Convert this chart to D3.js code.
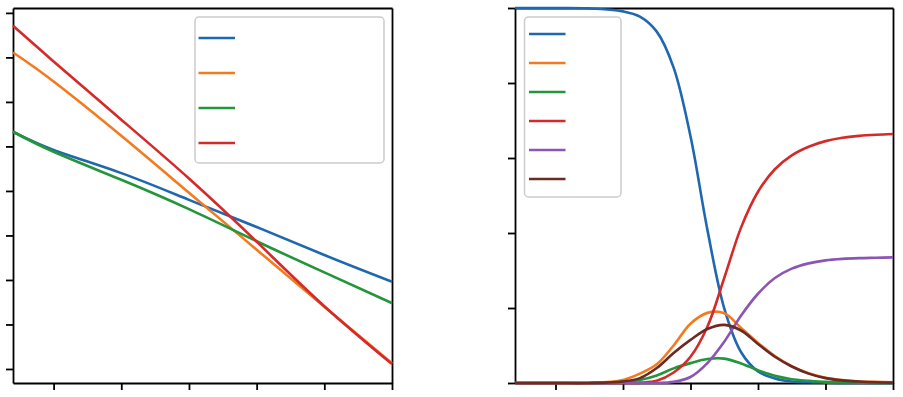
<!DOCTYPE html>
<html>
<head>
<meta charset="utf-8">
<script src="https://cdn.jsdelivr.net/npm/d3@7"></script>
<style>
  body { margin: 0; background: #fff; }
  .axis path, .axis line { stroke: #000; stroke-width: 1.8; }
  .series { fill: none; stroke-width: 2.6; stroke-linejoin: round; }
</style>
</head>
<body>
<script>

var Width = 903;
var Height = 397;

// shared x ticks
var xTicks = [1, 2, 3, 4, 5, 6];

// left panel: straight-ish lines
var leftX = [0.4, 1, 2, 3, 4, 5, 6];
var leftBlue   = [5.33, 4.92, 4.40, 3.80, 3.19, 2.56, 1.96];
var leftOrange = [7.11, 6.46, 5.24, 3.96, 2.68, 1.40, 0.13];
var leftGreen  = [5.33, 4.88, 4.25, 3.59, 2.87, 2.17, 1.48];
var leftRed    = [7.71, 6.91, 5.60, 4.28, 2.86, 1.41, 0.11];
var leftYTicks = [0, 1, 2, 3, 4, 5, 6, 7, 8];

// right panel: sigmoid / bell curves
var rightX = [0.4, 1, 1.5, 2, 2.25, 2.5, 2.75, 3, 3.25, 3.5, 3.75, 4, 4.25, 4.5, 4.75, 5, 5.25, 5.5, 5.75, 6];
var rightBlue   = [1.0, 1.0, 0.999, 0.991, 0.977, 0.937, 0.841, 0.658, 0.409, 0.199, 0.082, 0.031, 0.012, 0.004, 0.002, 0.001, 0, 0, 0, 0];
var rightOrange = [0, 0, 0, 0.008, 0.025, 0.05, 0.1, 0.158, 0.187, 0.186, 0.147, 0.107, 0.072, 0.045, 0.026, 0.014, 0.008, 0.004, 0.003, 0.002];
var rightGreen  = [0, 0, 0, 0.003, 0.008, 0.02, 0.039, 0.053, 0.064, 0.065, 0.052, 0.034, 0.019, 0.01, 0.006, 0.003, 0.002, 0.001, 0, 0];
var rightRed    = [0, 0, 0, 0, 0.001, 0.006, 0.028, 0.07, 0.15, 0.28, 0.415, 0.51, 0.57, 0.607, 0.63, 0.645, 0.654, 0.659, 0.662, 0.664];
var rightPurple = [0, 0, 0, 0, 0, 0, 0.003, 0.016, 0.053, 0.11, 0.18, 0.238, 0.28, 0.305, 0.319, 0.327, 0.331, 0.333, 0.334, 0.335];
var rightBrown  = [0, 0, 0, 0.004, 0.013, 0.04, 0.08, 0.115, 0.144, 0.155, 0.14, 0.104, 0.07, 0.044, 0.025, 0.013, 0.007, 0.004, 0.002, 0.001];
var rightYTicks = [0, 0.2, 0.4, 0.6, 0.8, 1.0];

var Colors = {
  blue: "#1f68b0", orange: "#f47a1f", green: "#23953a",
  red: "#d42a2a", purple: "#8b55b5", brown: "#6b2a22"
};

function main () {
  var svg = d3.select("body").append("svg")
    .attr("width", Width)
    .attr("height", Height);

  // left panel
  var lx = d3.scaleLinear().domain([0.4, 6]).range([13, 392]);
  var ly = d3.scaleLinear().domain([-0.315, 8.11]).range([383, 8]);
  var left = svg.append("g");
  makeFrame(left, lx, ly, xTicks, leftYTicks);
  var leftSeries = [
    {c: Colors.blue, v: leftBlue},
    {c: Colors.orange, v: leftOrange},
    {c: Colors.green, v: leftGreen},
    {c: Colors.red, v: leftRed}
  ];
  drawLines(left, leftSeries, leftX, lx, ly, d3.curveNatural);
  makeLegend(left, leftSeries, {x: 195, y: 17, w: 189, h: 146, lx: 198.5, lw: 36.5, y0: 38, dy: 35});

  // right panel
  var rx = d3.scaleLinear().domain([0.4, 6]).range([515, 893]);
  var ry = d3.scaleLinear().domain([0, 1]).range([383, 8]);
  var right = svg.append("g");
  makeFrame(right, rx, ry, xTicks, rightYTicks);
  var rightSeries = [
    {c: Colors.blue, v: rightBlue},
    {c: Colors.orange, v: rightOrange},
    {c: Colors.green, v: rightGreen},
    {c: Colors.red, v: rightRed},
    {c: Colors.purple, v: rightPurple},
    {c: Colors.brown, v: rightBrown}
  ];
  drawLines(right, rightSeries, rightX, rx, ry, d3.curveCatmullRom.alpha(0.5));
  makeLegend(right, rightSeries, {x: 524.5, y: 17, w: 96.5, h: 180, lx: 529, lw: 36.5, y0: 34, dy: 29});
}

function makeFrame (g, x, y, xt, yt) {
  var x0 = x.range()[0], x1 = x.range()[1];
  var y0 = y.range()[0], y1 = y.range()[1];

  g.append("g").attr("class", "axis")
    .attr("transform", "translate(0," + y0 + ")")
    .call(d3.axisBottom(x).tickValues(xt).tickSize(7).tickSizeOuter(0).tickFormat(""));
  g.append("g").attr("class", "axis")
    .attr("transform", "translate(" + x0 + ",0)")
    .call(d3.axisLeft(y).tickValues(yt).tickSize(7).tickSizeOuter(0).tickFormat(""));
  g.append("g").attr("class", "axis")
    .attr("transform", "translate(0," + y1 + ")")
    .call(d3.axisTop(x).tickValues([]).tickSizeOuter(0));
  g.append("g").attr("class", "axis")
    .attr("transform", "translate(" + x1 + ",0)")
    .call(d3.axisRight(y).tickValues([]).tickSizeOuter(0));
}

function drawLines (g, series, xs, x, y, curve) {
  var line = d3.line()
    .x(function(d) { return x(d[0]); })
    .y(function(d) { return y(d[1]); })
    .curve(curve);

  g.selectAll("path.series")
    .data(series)
    .enter()
    .append("path")
    .attr("class", "series")
    .attr("stroke", function(d) { return d.c; })
    .attr("d", function(d) {
      return line(xs.map(function(v, i) { return [v, d.v[i]]; }));
    });
}

function makeLegend (g, series, o) {
  g.append("rect")
    .attr("x", o.x).attr("y", o.y)
    .attr("width", o.w).attr("height", o.h)
    .attr("rx", 4)
    .attr("fill", "#fff").attr("fill-opacity", 0.8)
    .attr("stroke", "#cccccc").attr("stroke-width", 1.5);

  g.selectAll("line.key")
    .data(series)
    .enter()
    .append("line")
    .attr("class", "key")
    .attr("x1", o.lx).attr("x2", o.lx + o.lw)
    .attr("y1", function(d, i) { return o.y0 + i * o.dy; })
    .attr("y2", function(d, i) { return o.y0 + i * o.dy; })
    .attr("stroke", function(d) { return d.c; })
    .attr("stroke-width", 2.6);
}

main();
</script>
</body>
</html>
